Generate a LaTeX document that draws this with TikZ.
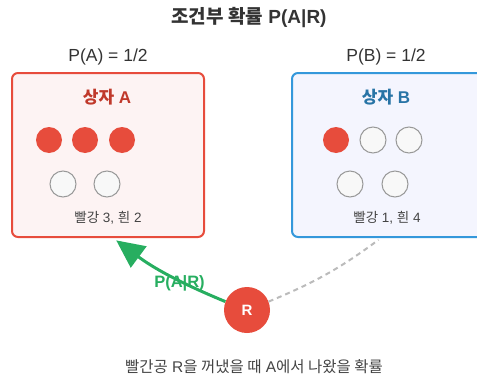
\documentclass[tikz,border=0pt]{standalone}
\usepackage{fontspec}
\setmainfont{Liberation Sans}
\newfontfamily\kr{Noto Sans CJK KR}
\usetikzlibrary{arrows.meta, positioning}
\definecolor{redStroke}{HTML}{E74C3C}
\definecolor{redFill}{HTML}{FDF3F3}
\definecolor{redTitle}{HTML}{C0392B}
\definecolor{blueStroke}{HTML}{3498DB}
\definecolor{blueFill}{HTML}{F4F5FE}
\definecolor{blueTitle}{HTML}{2874A6}
\definecolor{ballEdge}{HTML}{999999}
\definecolor{ballWhite}{HTML}{F8F8F8}
\definecolor{pathGreen}{HTML}{27AE60}
\definecolor{pathGray}{HTML}{BBBBBB}
\definecolor{textDark}{HTML}{333333}
\definecolor{textMid}{HTML}{444444}
\tikzset{
  fig/.style = {
    x=1pt, y=-1pt, >=Stealth,
  },
  redbox/.style = {
    rectangle, rounded corners=6pt, line width=2pt, draw=redStroke, fill=redFill,
    minimum width=192pt, minimum height=164pt,
  },
  bluebox/.style = {
    redbox, draw=blueStroke, fill=blueFill,
  },
  boxtitle/.style = {font=\fontsize{17}{19}\selectfont\bfseries},
  prob/.style = {font=\fontsize{17.5}{19}\selectfont, text=textDark},
  caption/.style = {font=\fontsize{13.5}{15}\selectfont, text=textMid},
  ball/.style = {circle, inner sep=0pt, minimum size=26pt},
  rball/.style = {ball, fill=redStroke},
  wball/.style = {ball, draw=ballEdge, fill=ballWhite, line width=1pt, minimum size=26pt},
  garr/.style = {-{Triangle[length=28pt, width=26pt]}, line width=3pt, draw=pathGreen},
  grayline/.style = {line width=2pt, draw=pathGray, dash pattern=on 5pt off 4pt},
}

\begin{document}
\begin{tikzpicture}[fig]
\useasboundingbox (0,0) rectangle (477,383);

\node[font=\fontsize{19}{21}\selectfont\bfseries, text=textDark] (title) at (249,18) {{\kr 조건부 확률} P(A|R)};

\node[prob] (pa) at (108,57) {P(A) = 1/2};
\node[prob] (pb) at (386,57) {P(B) = 1/2};

% box A
\node[redbox] (boxA) at (108,155) {};
\node[boxtitle, text=redTitle] (ttlA) at (107,97) {{\kr 상자} A};
\node[rball] (a1) at (49,140) {};
\node[rball] (a2) at (85,140) {};
\node[rball] (a3) at (122,140) {};
\node[wball] (a4) at (63,184) {};
\node[wball] (a5) at (107,184) {};
\node[caption] (capA) at (108,218) {{\kr 빨강} 3, {\kr 흰} 2};

% box B
\node[bluebox] (boxB) at (388,155) {};
\node[boxtitle, text=blueTitle] (ttlB) at (386,97) {{\kr 상자} B};
\node[rball] (b1) at (336,140) {};
\node[wball] (b2) at (373,140) {};
\node[wball] (b3) at (409,140) {};
\node[wball] (b4) at (350,184) {};
\node[wball] (b5) at (395,184) {};
\node[caption] (capB) at (387,218) {{\kr 빨강} 1, {\kr 흰} 4};

% drawn ball
\node[circle, fill=redStroke, minimum size=46pt, inner sep=0pt,
      text=white, font=\fontsize{15}{17}\selectfont\bfseries] (rdraw) at (247,310) {R};

\draw[garr, shorten >=4pt] (rdraw) to[bend left=7]
  node[text=pathGreen, font=\fontsize{16.5}{18}\selectfont\bfseries, pos=0.38, yshift=-3pt] (lbl) {P(A|R)}
  ([xshift=5pt]boxA.south);
\draw[grayline, shorten >=3pt] (rdraw) to[bend right=7] ([xshift=-7pt]boxB.south);

\node[font=\fontsize{15.5}{17}\selectfont, text=textMid] (note) at (254,367) {{\kr 빨간공} R{\kr 을 꺼냈을 때} A{\kr 에서 나왔을 확률}};

\end{tikzpicture}
\end{document}
